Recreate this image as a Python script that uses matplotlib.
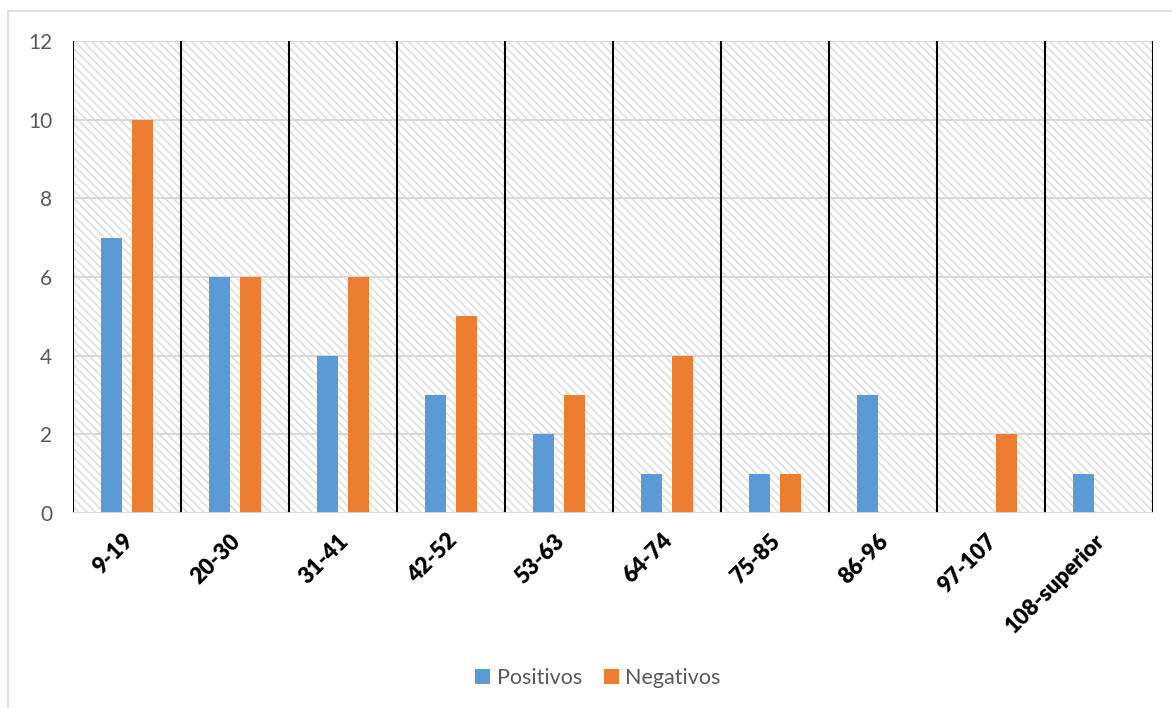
import numpy as np
import matplotlib.pyplot as plt
from matplotlib.patches import Rectangle
from matplotlib.transforms import ScaledTranslation

# rangos y conteos
rangos = ['9-19', '20-30', '31-41', '42-52', '53-63', '64-74', '75-85',
          '86-96', '97-107', '108-superior']
positivos = [7, 6, 4, 3, 2, 1, 1, 3, 0, 1]
negativos = [10, 6, 6, 5, 3, 4, 1, 0, 2, 0]

azul = '#5b9bd5'
naranja = '#ed7d31'

plt.rcParams['font.family'] = ['Lato', 'DejaVu Sans']
plt.rcParams['hatch.linewidth'] = 1.3

fig = plt.figure(figsize=(11.72, 7.08), dpi=100)
ax = fig.add_axes([73 / 1172, 1 - 513 / 708, 1080 / 1172, 472 / 708])

# marco exterior
fig.patches.append(Rectangle((8 / 1172, -0.1), 1.2, 1 - 11 / 708 + 0.1,
                             transform=fig.transFigure, fill=False,
                             edgecolor='#d9d9d9', lw=1.2))

# fondo rayado
ax.add_patch(Rectangle((0, 0), 1, 1, transform=ax.transAxes,
                       facecolor='white', edgecolor='#e0e0e0', lw=0,
                       hatch='\\\\\\\\', zorder=0))

x = np.arange(len(rangos))
ancho = 0.195
ax.bar(x - 0.1435, positivos, ancho, color=azul, label='Positivos', zorder=3)
ax.bar(x + 0.1435, negativos, ancho, color=naranja, label='Negativos', zorder=3)

ax.set_xlim(-0.5, len(rangos) - 0.5)
ax.set_ylim(0, 12)
ax.set_yticks(range(0, 13, 2))

# líneas horizontales grises y separadores negros
for v in range(2, 13, 2):
    ax.axhline(v, color='#d9d9d9', lw=1.5, zorder=1)
for b in np.arange(-0.5, len(rangos), 1):
    ax.axvline(b, color='black', lw=1.5, zorder=2)
ax.axhline(0, color='#d9d9d9', lw=2, zorder=4)

for s in ax.spines.values():
    s.set_visible(False)

ax.tick_params(axis='y', length=0, labelsize=15, labelcolor='#595959', pad=15)
ax.tick_params(axis='x', length=0, pad=8)
ax.set_xticks(x)
ax.set_xticklabels(rangos, rotation=45, ha='right', rotation_mode='anchor',
                   fontsize=16, fontweight='heavy', color='black')
desplaza = ScaledTranslation(-0.05, -0.06, fig.dpi_scale_trans)
for lbl in ax.get_xticklabels():
    lbl.set_transform(lbl.get_transform() + desplaza)

leg = fig.legend(loc='center', bbox_to_anchor=(598 / 1172, 1 - 678 / 708),
                 ncol=2, frameon=False, fontsize=15.5, handlelength=0.7,
                 handleheight=0.7, handletextpad=0.3, columnspacing=1.0)
for t in leg.get_texts():
    t.set_color('#595959')

fig.savefig('out.png', dpi=100)
